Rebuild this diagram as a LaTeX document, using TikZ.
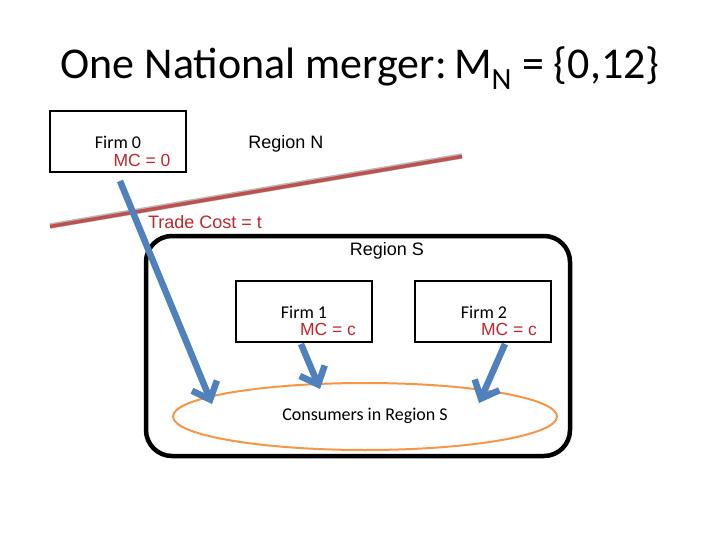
\documentclass[tikz,border=0pt]{standalone}
\usepackage{fontspec}
\setmainfont{Carlito}
\newfontfamily\arialf{Liberation Sans}
\usetikzlibrary{arrows.meta,shapes.geometric}
\definecolor{flowblue}{HTML}{4F81BD}
\definecolor{mcred}{HTML}{C0272D}
\definecolor{tradered}{HTML}{C0504D}
\definecolor{ellorange}{HTML}{F79646}
\tikzset{
  firmbox/.style={draw=black, line width=2pt, minimum width=136pt, minimum height=61pt, inner sep=0pt},
  lbl/.style={font=\fontsize{18}{20}\selectfont, inner sep=0pt},
  arlbl/.style={font=\arialf\fontsize{18}{20}\selectfont, inner sep=0pt},
  mclbl/.style={font=\arialf\fontsize{17.5}{20}\selectfont, text=mcred, inner sep=0pt},
  flow/.style={draw=flowblue, line width=6.5pt, -{Straight Barb[length=15pt, width=27pt, line width=6.5pt]}},
}
\begin{document}
\begin{tikzpicture}[x=1pt,y=-1pt]
\useasboundingbox (0,0) rectangle (720,540);
\fill[white] (0,0) rectangle (720,540);
\node[font=\fontsize{44}{50}\selectfont, inner sep=0pt] (title) at (360,68) {One National merger:\,M\textsubscript{N} = \{0,12\}};
% Region S
\draw[line width=4.5pt, rounded corners=26pt] (146,236) rectangle (570,456);
\node[arlbl] (rs) at (387,251) {Region S};
% Firm 0
\node[firmbox] (f0) at (117.5,142) {};
\node[lbl] (f0t) at (118,142) {Firm 0};
\node[mclbl] (f0m) at (142,160) {MC = 0};
\node[arlbl] (rn) at (286,144) {Region N};
% trade line
\coordinate (tl1) at (50,226);
\coordinate (tl2) at (462,156);
\draw[line width=5.5pt, color=gray!55] (tl1) -- (tl2);
\draw[line width=3.5pt, color=tradered] ([yshift=-0.5pt]tl1) -- ([yshift=-0.5pt]tl2);
\node[arlbl, text=mcred] (tc) at (205,222) {Trade Cost = t};
% firms 1,2
\node[firmbox] (f1) at (303.5,311.5) {};
\node[lbl] (f1t) at (304,312) {Firm 1};
\node[mclbl] (f1m) at (328,329) {MC = c};
\node[firmbox] (f2) at (483,311.5) {};
\node[lbl] (f2t) at (484,312) {Firm 2};
\node[mclbl] (f2m) at (509,329) {MC = c};
% consumers
\node[draw=ellorange, line width=2pt, ellipse, minimum width=384pt, minimum height=67pt, inner sep=0pt] (cons) at (365,416.5) {};
\node[lbl] (ct) at (365,416) {Consumers in Region S};
% arrows
\coordinate (a0s) at (120,181);
\coordinate (a0e) at (212,404);
\coordinate (a1s) at (301,344);
\coordinate (a1e) at (320,389);
\coordinate (a2s) at (505,344);
\coordinate (a2e) at (479,403);
\draw[flow] (a0s) -- (a0e);
\draw[flow] (a1s) -- (a1e);
\draw[flow] (a2s) -- (a2e);
\end{tikzpicture}
\end{document}
